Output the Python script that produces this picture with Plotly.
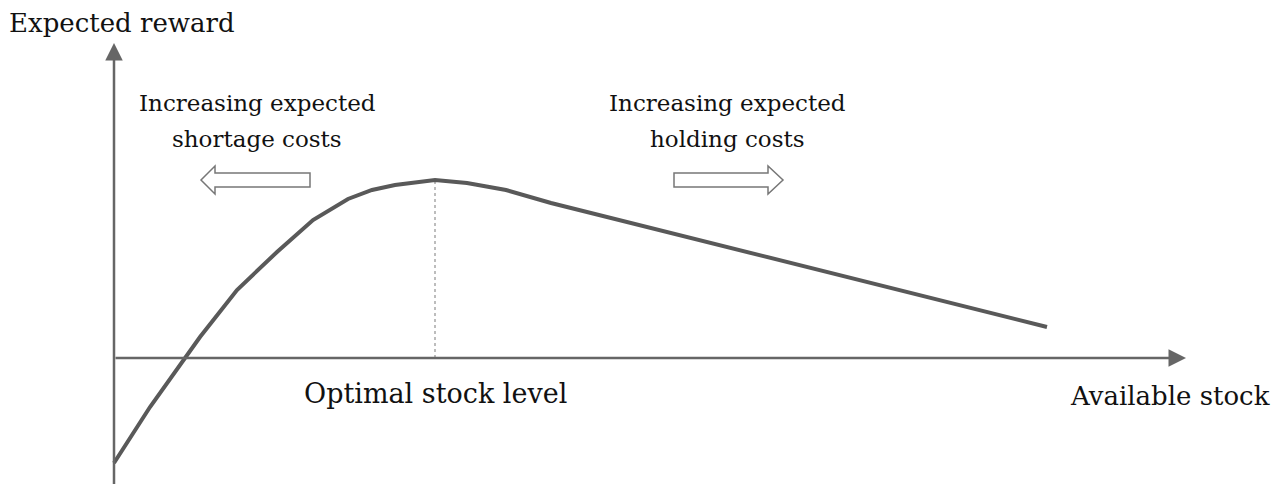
import plotly.graph_objects as go

# ---- data ----
stock = [0.0, 0.36, 0.86, 1.23, 1.63, 1.99, 2.34, 2.58, 2.81, 3.21, 3.53, 3.92, 4.37, 9.33]
reward = [-10.5, -4.9, 2.1, 6.8, 10.6, 13.8, 15.9, 16.8, 17.3, 17.8, 17.5, 16.8, 15.5, 3.1]

x_axis_title = "Available stock"
y_axis_title = "Expected reward"
optimum_label = "Optimal stock level"
left_label = ["Increasing expected", "shortage costs"]
right_label = ["Increasing expected", "holding costs"]

FONT = "DejaVu Serif"
AXIS_COLOR = "#666666"
CURVE_COLOR = "#595959"

X_RANGE = [-1.06, 11.78]
Y_RANGE = [-13.4, 35.0]

peak_i = max(range(len(reward)), key=lambda i: reward[i])
x_opt, y_opt = stock[peak_i], reward[peak_i]

fig = go.Figure()

# optimum dotted guide
fig.add_trace(go.Scatter(x=[x_opt, x_opt], y=[0, y_opt], mode="lines",
                         line=dict(color="#a8a8a8", width=1.5, dash="dot"),
                         hoverinfo="skip", showlegend=False))

# reward curve
fig.add_trace(go.Scatter(x=stock, y=reward, mode="lines",
                         line=dict(color=CURVE_COLOR, width=4),
                         showlegend=False))

annotations = []
# axes drawn as arrows
annotations.append(dict(x=0, y=31.5, ax=0, ay=Y_RANGE[0], xref="x", yref="y",
                        axref="x", ayref="y", text="", showarrow=True,
                        arrowhead=2, arrowsize=1.4, arrowwidth=2.5,
                        arrowcolor=AXIS_COLOR))
annotations.append(dict(x=10.72, y=0, ax=0, ay=0, xref="x", yref="y",
                        axref="x", ayref="y", text="", showarrow=True,
                        arrowhead=2, arrowsize=1.4, arrowwidth=2.5,
                        arrowcolor=AXIS_COLOR))

def label(text, x, y, xanchor="center", size=23, xref="x", yanchor="middle"):
    return dict(text=text, x=x, y=y, xref=xref, yref="y", showarrow=False,
                xanchor=xanchor, yanchor=yanchor, borderpad=0,
                font=dict(family=FONT, size=size, color="#111111"))

annotations.append(label(y_axis_title, 0, 33.5, "left", 26, xref="paper"))
annotations.append(label(x_axis_title, 10.56, -3.8, size=26))
annotations.append(label(optimum_label, x_opt, -3.5, size=27))
annotations.append(label(left_label[0], 1.43, 25.5))
annotations.append(label(left_label[1], 1.43, 21.9))
annotations.append(label(right_label[0], 6.13, 25.5))
annotations.append(label(right_label[1], 6.13, 21.9))

# hollow block arrows
def hollow_arrow(x_tail, x_tip, y, body_half, head_half, head_len):
    d = 1 if x_tip > x_tail else -1
    xb = x_tip - d * head_len
    pts = [(x_tail, y - body_half), (xb, y - body_half), (xb, y - head_half),
           (x_tip, y), (xb, y + head_half), (xb, y + body_half),
           (x_tail, y + body_half)]
    return "M " + " L ".join(f"{px},{py}" for px, py in pts) + " Z"

shapes = [
    dict(type="path", xref="x", yref="y",
         path=hollow_arrow(1.96, 0.87, 17.8, 0.7, 1.4, 0.14),
         line=dict(color="#777777", width=1.5), fillcolor="white"),
    dict(type="path", xref="x", yref="y",
         path=hollow_arrow(5.60, 6.69, 17.8, 0.7, 1.4, 0.15),
         line=dict(color="#777777", width=1.5), fillcolor="white"),
]

fig.update_layout(
    width=1284, height=484,
    margin=dict(l=0, r=0, t=0, b=0),
    paper_bgcolor="white", plot_bgcolor="white",
    xaxis=dict(range=X_RANGE, visible=False, fixedrange=True),
    yaxis=dict(range=Y_RANGE, visible=False, fixedrange=True),
    annotations=annotations, shapes=shapes,
    showlegend=False,
)

fig.write_html("out.html")
